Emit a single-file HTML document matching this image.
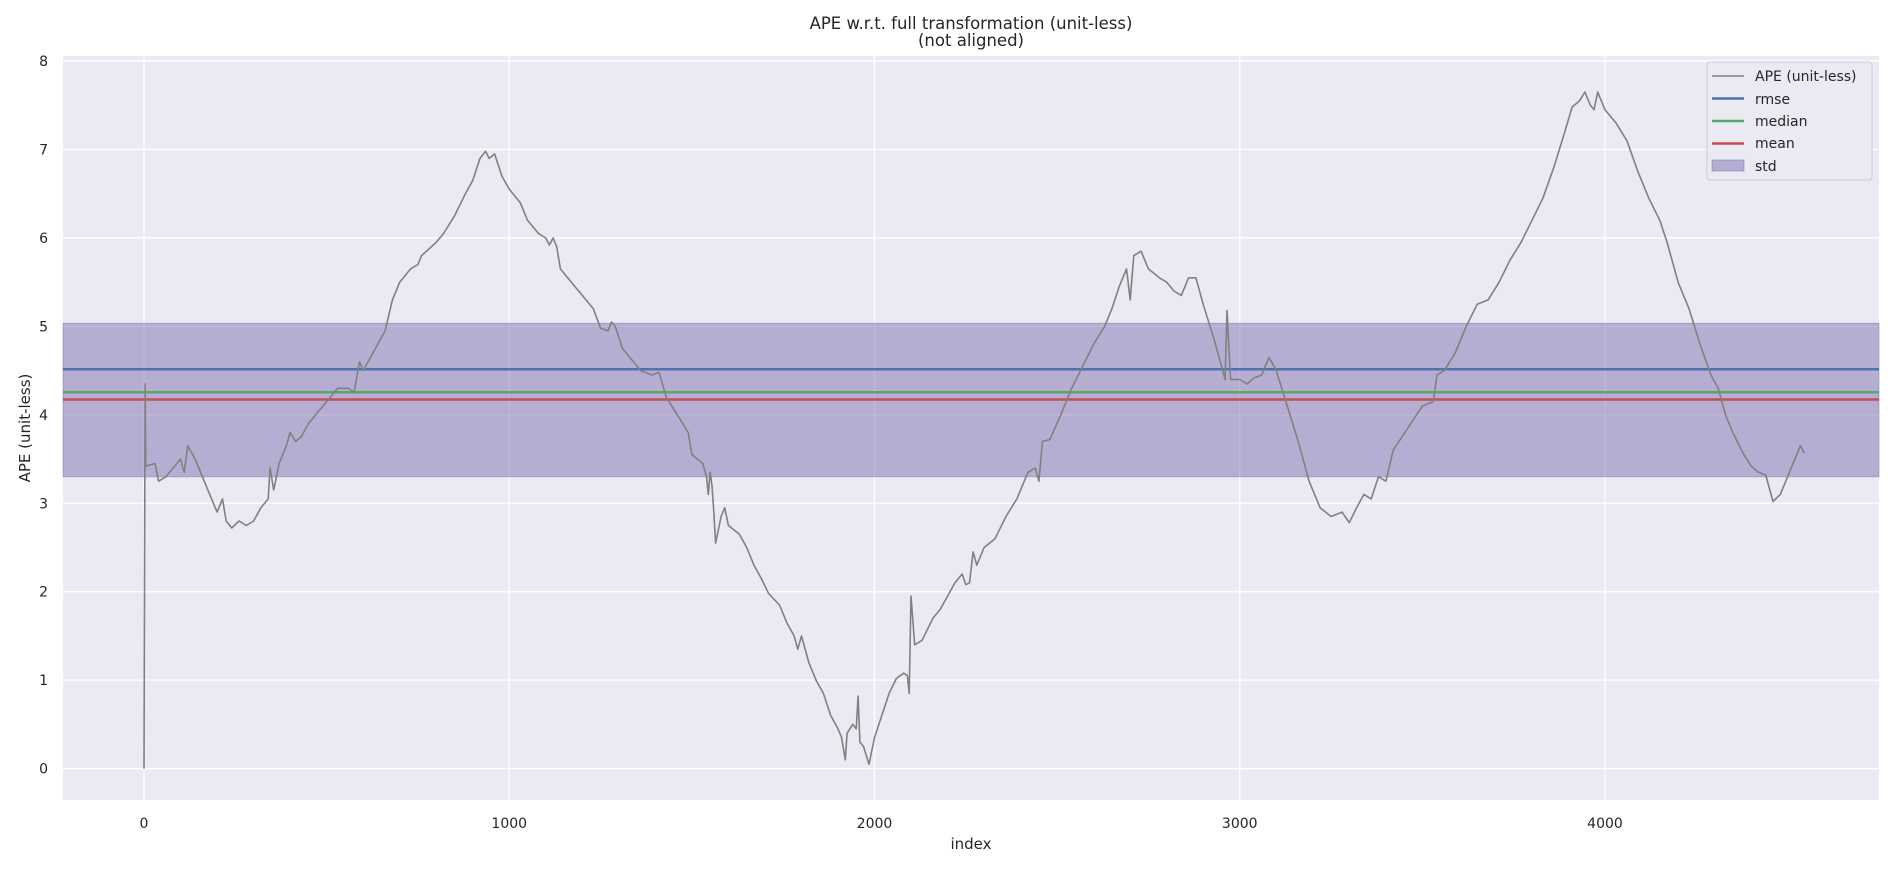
<!DOCTYPE html>
<html><head><meta charset="utf-8"><style>
body{margin:0;background:#fff;}
svg text{font-family:"DejaVu Sans","Liberation Sans",sans-serif;fill:#262626;}
</style></head><body>
<svg id="chart" width="1898" height="869" xmlns="http://www.w3.org/2000/svg">
<rect x="63" y="56" width="1816" height="744" fill="#eaeaf2"/>
<g id="grid"></g>
<rect id="stdband" fill="#8172b2" fill-opacity="0.5" stroke="#8172b2" stroke-opacity="0.5"/>
<line id="rmse" stroke="#4c72b0" stroke-width="2.5"/>
<line id="median" stroke="#55a868" stroke-width="2.5"/>
<line id="mean" stroke="#c44e52" stroke-width="2.5"/>
<polyline id="ape" fill="none" stroke="#808080" stroke-width="1.6" stroke-linejoin="round"/>
<g id="ticks"></g>
<text x="971" y="29" font-size="16.5" text-anchor="middle">APE w.r.t. full transformation (unit-less)</text>
<text x="971" y="46" font-size="16.5" text-anchor="middle">(not aligned)</text>
<text x="971" y="849" font-size="15" text-anchor="middle">index</text>
<text x="0" y="0" font-size="15" text-anchor="middle" transform="translate(30,428) rotate(-90)">APE (unit-less)</text>
<g>
<rect x="1707" y="62" width="165" height="118" rx="3" fill="#eaeaf2" fill-opacity="0.8" stroke="#cccccc"/>
<line x1="1712" y1="76" x2="1744" y2="76" stroke="#808080" stroke-width="1.5"/>
<text x="1755" y="81" font-size="14">APE (unit-less)</text>
<line x1="1712" y1="98.5" x2="1744" y2="98.5" stroke="#4c72b0" stroke-width="2.5"/>
<text x="1755" y="104" font-size="14">rmse</text>
<line x1="1712" y1="121" x2="1744" y2="121" stroke="#55a868" stroke-width="2.5"/>
<text x="1755" y="126" font-size="14">median</text>
<line x1="1712" y1="143.5" x2="1744" y2="143.5" stroke="#c44e52" stroke-width="2.5"/>
<text x="1755" y="148" font-size="14">mean</text>
<rect x="1712" y="160" width="32" height="11" fill="#8172b2" fill-opacity="0.5" stroke="#8172b2" stroke-opacity="0.5"/>
<text x="1755" y="171" font-size="14">std</text>
</g>
</svg>
<script>
const xIndex=[0,3,5,30,40,60,80,100,110,120,140,160,180,200,215,225,240,260,280,300,320,340,345,355,370,390,400,415,430,450,480,500,530,560,575,590,600,620,640,660,680,700,730,750,760,800,820,850,880,900,920,935,945,960,980,1000,1030,1050,1080,1100,1110,1120,1130,1140,1170,1200,1230,1250,1270,1280,1290,1310,1340,1360,1390,1410,1430,1460,1490,1500,1530,1540,1545,1550,1555,1560,1565,1580,1590,1600,1630,1650,1670,1690,1710,1740,1760,1780,1790,1800,1820,1840,1860,1880,1900,1910,1920,1925,1940,1950,1955,1960,1970,1985,2000,2020,2040,2060,2080,2090,2095,2100,2110,2130,2160,2180,2200,2220,2240,2250,2260,2270,2280,2300,2330,2360,2390,2420,2440,2450,2460,2480,2510,2540,2570,2600,2630,2650,2670,2690,2700,2710,2730,2750,2780,2800,2820,2840,2860,2880,2900,2930,2950,2960,2965,2975,3000,3020,3040,3060,3080,3100,3130,3160,3190,3220,3250,3280,3300,3320,3340,3360,3380,3400,3420,3460,3500,3530,3540,3560,3590,3620,3650,3680,3710,3740,3770,3800,3830,3860,3890,3910,3930,3945,3960,3970,3980,4000,4030,4060,4090,4120,4150,4170,4200,4230,4260,4290,4310,4330,4350,4380,4400,4420,4440,4460,4480,4500,4520,4535,4545];
const apeValues=[0,4.35,3.42,3.45,3.25,3.3,3.4,3.5,3.35,3.65,3.5,3.3,3.1,2.9,3.05,2.8,2.72,2.8,2.75,2.8,2.95,3.05,3.4,3.15,3.45,3.65,3.8,3.7,3.75,3.9,4.05,4.15,4.3,4.3,4.25,4.6,4.5,4.65,4.8,4.95,5.3,5.5,5.65,5.7,5.8,5.95,6.05,6.25,6.5,6.65,6.9,6.98,6.9,6.95,6.7,6.55,6.4,6.2,6.05,6.0,5.92,6.0,5.9,5.65,5.5,5.35,5.2,4.98,4.95,5.05,5.0,4.75,4.6,4.5,4.45,4.48,4.2,4.0,3.8,3.55,3.45,3.3,3.1,3.35,3.2,2.9,2.55,2.85,2.95,2.75,2.65,2.5,2.3,2.15,1.98,1.85,1.65,1.5,1.35,1.5,1.2,1.0,0.85,0.6,0.45,0.35,0.1,0.4,0.5,0.45,0.82,0.3,0.25,0.05,0.35,0.6,0.85,1.02,1.08,1.05,0.85,1.95,1.4,1.45,1.7,1.8,1.95,2.1,2.2,2.08,2.1,2.45,2.3,2.5,2.6,2.85,3.05,3.35,3.4,3.25,3.7,3.72,4.0,4.3,4.55,4.8,5.0,5.2,5.45,5.65,5.3,5.8,5.85,5.65,5.55,5.5,5.4,5.35,5.55,5.55,5.25,4.85,4.55,4.4,5.18,4.4,4.4,4.35,4.42,4.45,4.65,4.5,4.1,3.7,3.25,2.95,2.85,2.9,2.78,2.95,3.1,3.05,3.3,3.25,3.6,3.85,4.1,4.15,4.45,4.5,4.7,5.0,5.25,5.3,5.5,5.75,5.95,6.2,6.45,6.8,7.2,7.48,7.55,7.65,7.5,7.45,7.65,7.45,7.3,7.1,6.75,6.45,6.2,5.95,5.5,5.2,4.8,4.45,4.3,4.0,3.8,3.55,3.42,3.35,3.32,3.02,3.1,3.3,3.5,3.65,3.57];
const statRmse=4.515, statMedian=4.255, statMean=4.174, statStdLow=3.30, statStdHigh=5.035;
const xTicks=[0,1000,2000,3000,4000];
const yTicks=[0,1,2,3,4,5,6,7,8];

const X0=63,X1=1879,Y0=56,Y1=800;
function sx(v){return 144+v*0.36525;}
function sy(v){return 768.6-v*88.44;}
const NS="http://www.w3.org/2000/svg";
const grid=document.getElementById('grid'), ticks=document.getElementById('ticks');
xTicks.forEach(t=>{
  const l=document.createElementNS(NS,'line');
  
  
  l.setAttribute('x1',sx(t));l.setAttribute('x2',sx(t));l.setAttribute('y1',Y0);l.setAttribute('y2',Y1);
  l.setAttribute('stroke','#fff');l.setAttribute('stroke-width','1.3');grid.appendChild(l);
  const tx=document.createElementNS(NS,'text');
  
  
  tx.setAttribute('x',sx(t));tx.setAttribute('y',828);tx.setAttribute('font-size','14');tx.setAttribute('text-anchor','middle');
  tx.textContent=t;ticks.appendChild(tx);
});
yTicks.forEach(t=>{
  const l=document.createElementNS(NS,'line');
  
  
  l.setAttribute('x1',X0);l.setAttribute('x2',X1);l.setAttribute('y1',sy(t));l.setAttribute('y2',sy(t));
  l.setAttribute('stroke','#fff');l.setAttribute('stroke-width','1.3');grid.appendChild(l);
  const tx=document.createElementNS(NS,'text');
  
  
  tx.setAttribute('x',48);tx.setAttribute('y',sy(t)+5);tx.setAttribute('font-size','14');tx.setAttribute('text-anchor','end');
  tx.textContent=t;ticks.appendChild(tx);
});
const band=document.getElementById('stdband');
band.setAttribute('x',X0);band.setAttribute('width',X1-X0);
band.setAttribute('y',sy(statStdHigh));band.setAttribute('height',sy(statStdLow)-sy(statStdHigh));
[['rmse',statRmse],['median',statMedian],['mean',statMean]].forEach(([id,v])=>{
  const l=document.getElementById(id);
  l.setAttribute('x1',X0);l.setAttribute('x2',X1);l.setAttribute('y1',sy(v));l.setAttribute('y2',sy(v));
});
document.getElementById('ape').setAttribute('points',xIndex.map((x,i)=>sx(x).toFixed(1)+','+sy(apeValues[i]).toFixed(1)).join(' '));
</script>
</body></html>
